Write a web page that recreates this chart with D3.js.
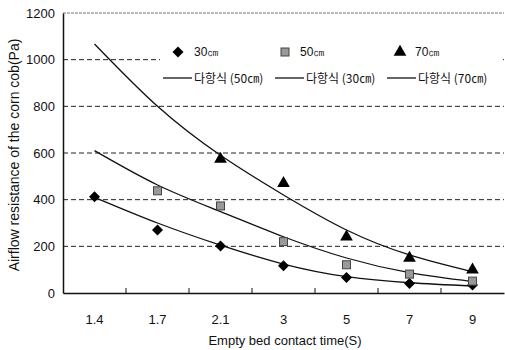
<!DOCTYPE html>
<html>
<head>
<meta charset="utf-8">
<script src="https://cdn.jsdelivr.net/npm/d3@7"></script>
<style>
  body { margin: 0; background: #fff; }
  text { font-family: "Liberation Sans", Arial, sans-serif; fill: #111; }
  .kr { font-family: "Noto Sans CJK KR", "Liberation Sans", sans-serif; }
</style>
</head>
<body>
<script>
"use strict";

// categories on the x axis (contact time, s)
const times = ["1.4", "1.7", "2.1", "3", "5", "7", "9"];
const yTicks = [0, 200, 400, 600, 800, 1000, 1200];

// measured points (Pa), null = no marker
const pts30 = [412, 270, 201, 117, 66, 41, 34];
const pts50 = [null, 438, 373, 220, 121, 81, 51];
const pts70 = [null, null, 574, 470, 241, 150, 99];

// polynomial trend lines
const fit30 = [410, 300, 205, 124, 70, 44, 30];
const fit50 = [610, 463, 349, 241, 150, 87, 49];
const fit70 = [1067, 800, 590, 420, 270, 163, 91];

(function() {
  const svg = d3.select("body").append("svg")
      .attr("width", 505)
      .attr("height", 350);

  // plot box
  const box = { left: 63, right: 504, top: 13, bottom: 293 };

  const x = d3.scaleBand().domain(times).range([box.left, box.right]);
  const y = d3.scaleLinear().domain([0, 1200]).range([box.bottom, box.top]);
  const cx = d => x(d) + x.bandwidth() / 2;

  // dashed grid lines
  svg.append("g").selectAll("line")
      .data(yTicks.filter(v => v > 0 && v < 1200))
      .enter().append("line")
        .attr("x1", box.left).attr("x2", box.right)
        .attr("y1", d => y(d)).attr("y2", d => y(d))
        .attr("stroke", "#222")
        .attr("stroke-width", 1)
        .attr("stroke-dasharray", "5,3");

  // top border (dotted, grey)
  svg.append("line")
      .attr("x1", box.left).attr("x2", box.right)
      .attr("y1", y(1200)).attr("y2", y(1200))
      .attr("stroke", "#777")
      .attr("stroke-dasharray", "3,1");

  // y axis
  const yAxis = d3.axisLeft(y).tickValues(yTicks).tickFormat(d3.format("d"))
      .tickSize(0).tickPadding(8);
  const gy = svg.append("g").attr("transform", `translate(${box.left},0)`).call(yAxis);
  gy.select(".domain").attr("stroke", "#111").attr("stroke-width", 1.5);
  gy.selectAll("text").style("font-size", "13px").attr("font-family", null);

  // x axis with inner ticks between categories
  const xAxis = d3.axisBottom(x).tickSize(0).tickPadding(22);
  const gx = svg.append("g").attr("transform", `translate(0,${box.bottom})`).call(xAxis);
  gx.select(".domain").attr("stroke", "#111").attr("stroke-width", 1.5);
  gx.selectAll("text").style("font-size", "13px").attr("font-family", null);
  gx.selectAll(".sep")
      .data(times.slice(1))
      .enter().append("line")
        .attr("x1", d => x(d)).attr("x2", d => x(d))
        .attr("y1", 0).attr("y2", -5)
        .attr("stroke", "#111");

  // legend box (covers grid)
  svg.append("rect")
      .attr("x", 160).attr("y", 30)
      .attr("width", 343).attr("height", 65)
      .attr("fill", "#fff");

  // trend lines
  const line = d3.line()
      .x((d, i) => cx(times[i]))
      .y(d => y(d))
      .curve(d3.curveNatural);

  [fit30, fit50, fit70].forEach(f => {
    svg.append("path")
        .attr("d", line(f))
        .attr("fill", "none")
        .attr("stroke", "#111")
        .attr("stroke-width", 1.3);
  });

  // markers
  const diamond = "M0,-5.5L5.5,0L0,5.5L-5.5,0Z";
  const tri = d3.symbol().type(d3.symbolTriangle).size(70)();

  function drawPts(vals, kind) {
    const g = svg.append("g");
    vals.forEach((v, i) => {
      if (v == null) return;
      const px = cx(times[i]), py = y(v);
      if (kind === "sq") {
        g.append("rect")
            .attr("x", px - 4).attr("y", py - 4)
            .attr("width", 8).attr("height", 8)
            .attr("fill", "#999").attr("stroke", "#444").attr("stroke-width", 1);
      } else {
        g.append("path")
            .attr("d", kind === "dia" ? diamond : tri)
            .attr("transform", `translate(${px},${py})`)
            .attr("fill", "#000");
      }
    });
  }
  drawPts(pts30, "dia");
  drawPts(pts50, "sq");
  drawPts(pts70, "tri");

  // legend
  const lg = svg.append("g");
  lg.append("path").attr("d", diamond).attr("transform", "translate(178,52)").attr("fill", "#000");
  lg.append("text").attr("x", 194).attr("y", 56).style("font-size", "12px").text("30㎝");
  lg.append("rect").attr("x", 281).attr("y", 48).attr("width", 8).attr("height", 8)
      .attr("fill", "#999").attr("stroke", "#444");
  lg.append("text").attr("x", 300).attr("y", 56).style("font-size", "12px").text("50㎝");
  lg.append("path").attr("d", tri).attr("transform", "translate(400,52)").attr("fill", "#000");
  lg.append("text").attr("x", 415).attr("y", 56).style("font-size", "12px").text("70㎝");

  const fitLabels = ["다항식 (50㎝)", "다항식 (30㎝)", "다항식 (70㎝)"];
  const fitX = [163, 275, 387];
  fitLabels.forEach((t, i) => {
    lg.append("line")
        .attr("x1", fitX[i]).attr("x2", fitX[i] + 29)
        .attr("y1", 78).attr("y2", 78)
        .attr("stroke", "#111").attr("stroke-width", 1.3);
    lg.append("text")
        .attr("class", "kr")
        .attr("x", fitX[i] + 31).attr("y", 83)
        .style("font-size", "12px")
        .text(t);
  });

  // axis titles
  svg.append("text")
      .attr("x", 285).attr("y", 345)
      .attr("text-anchor", "middle")
      .style("font-size", "13px")
      .text("Empty bed contact time(S)");

  svg.append("text")
      .attr("transform", "translate(19,155) rotate(-90)")
      .attr("text-anchor", "middle")
      .style("font-size", "14px")
      .text("Airflow resistance of the corn cob(Pa)");
})();
</script>
</body>
</html>
